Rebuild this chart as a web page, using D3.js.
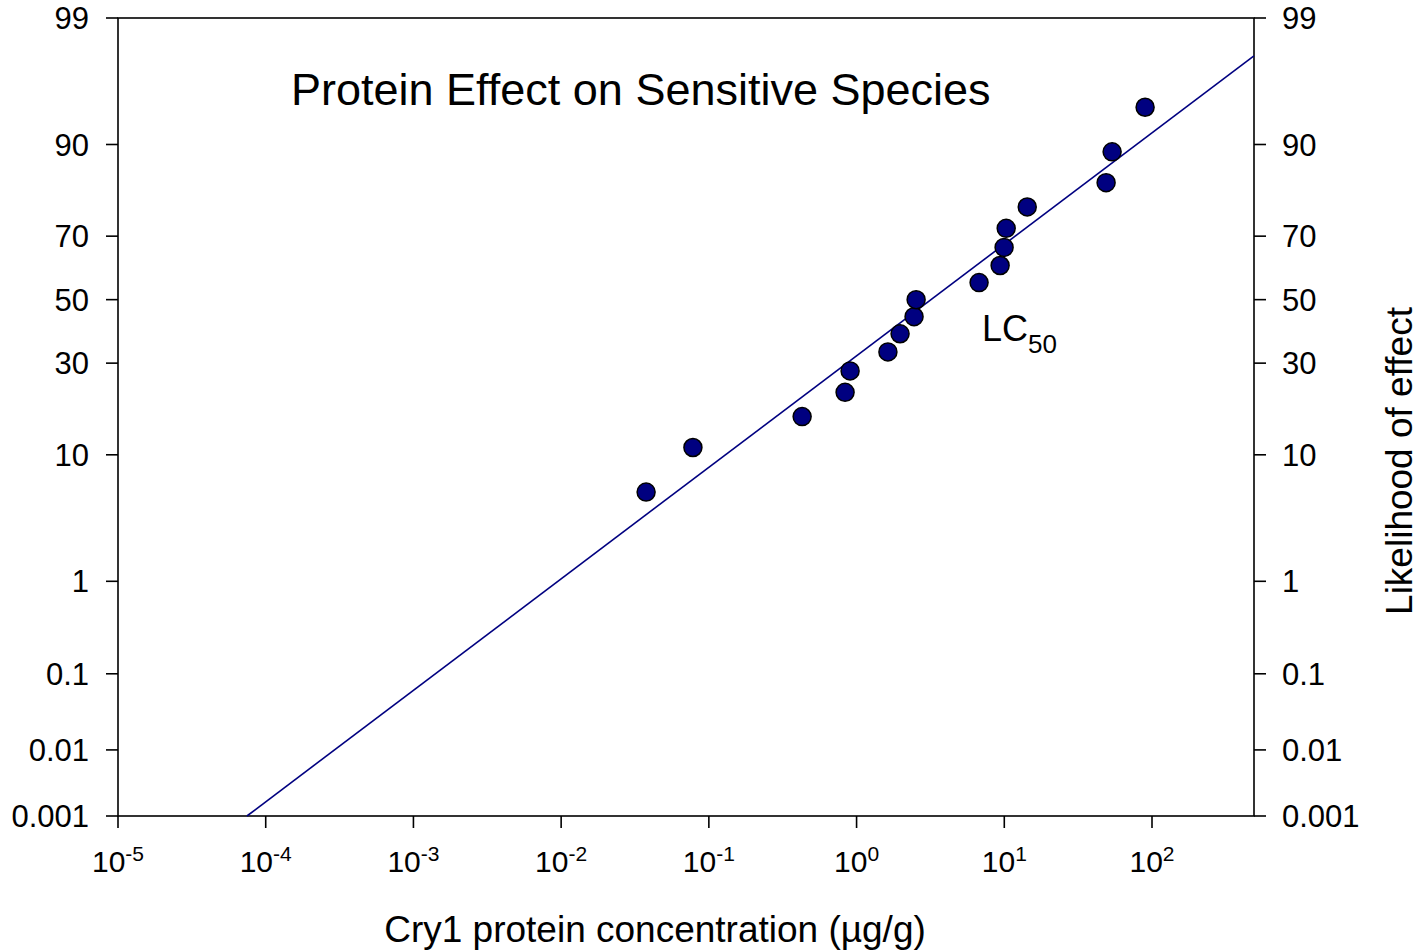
<!DOCTYPE html>
<meta charset="utf-8">
<title>Protein Effect on Sensitive Species</title>
<style>
body { margin: 0; background: #fff; }
text { font-family: "Liberation Sans", Arial, sans-serif; fill: #000; }
</style>
<svg width="1422" height="950"></svg>
<script src="https://d3js.org/d3.v7.min.js"></script>
<script>

// concentration (ug/g) and likelihood of effect (%)
var conc = [0.0376, 0.078, 0.428, 0.836, 0.904, 1.63, 1.97, 2.45, 2.53, 6.75, 9.37, 9.97, 10.3, 14.3, 48.9, 53.7, 89.8];
var likelihood = [5.6, 11.1, 16.7, 22.2, 27.8, 33.3, 38.9, 44.4, 50.0, 55.6, 61.1, 66.7, 72.2, 77.8, 83.3, 88.9, 94.4];

// fitted line end points
var fitConc = [7.46e-5, 490];
var fitLikelihood = [0.001, 97.8];

var yTicks = [0.001, 0.01, 0.1, 1, 10, 30, 50, 70, 90, 99];
var xTicks = [-5, -4, -3, -2, -1, 0, 1, 2];

// inverse normal cdf (Acklam)
function probit(p) {
  var a = [-3.969683028665376e+01, 2.209460984245205e+02, -2.759285104469687e+02, 1.383577518672690e+02, -3.066479806614716e+01, 2.506628277459239e+00],
      b = [-5.447609879822406e+01, 1.615858368580409e+02, -1.556989798598866e+02, 6.680131188771972e+01, -1.328068155288572e+01],
      c = [-7.784894002430293e-03, -3.223964580411365e-01, -2.400758277161838e+00, -2.549732539343734e+00, 4.374664141464968e+00, 2.938163982698783e+00],
      d = [7.784695709041462e-03, 3.224671290700398e-01, 2.445134137142996e+00, 3.754408661907416e+00];
  var q, r, pl = 0.02425;
  if (p < pl) {
    q = Math.sqrt(-2 * Math.log(p));
    return (((((c[0]*q+c[1])*q+c[2])*q+c[3])*q+c[4])*q+c[5]) / ((((d[0]*q+d[1])*q+d[2])*q+d[3])*q+1);
  } else if (p <= 1 - pl) {
    q = p - 0.5; r = q * q;
    return (((((a[0]*r+a[1])*r+a[2])*r+a[3])*r+a[4])*r+a[5])*q / (((((b[0]*r+b[1])*r+b[2])*r+b[3])*r+b[4])*r+1);
  } else {
    q = Math.sqrt(-2 * Math.log(1 - p));
    return -(((((c[0]*q+c[1])*q+c[2])*q+c[3])*q+c[4])*q+c[5]) / ((((d[0]*q+d[1])*q+d[2])*q+d[3])*q+1);
  }
}

var svg = d3.select("svg"),
    margin = {top: 18, right: 168, bottom: 134, left: 118},
    width = +svg.attr("width") - margin.left - margin.right,
    height = +svg.attr("height") - margin.top - margin.bottom;

var g = svg.append("g").attr("transform", "translate(" + margin.left + "," + margin.top + ")");

var x = d3.scaleLog()
    .domain([1e-5, Math.pow(10, 2.6905)])
    .range([0, width]);

var z = d3.scaleLinear()
    .domain([probit(0.00001), probit(0.99)])
    .range([height, 0]);

function y(pct) { return z(probit(pct / 100)); }

// frame
g.append("rect")
    .attr("width", width).attr("height", height)
    .attr("fill", "none").attr("stroke", "#000").attr("stroke-width", 1.6);

// y ticks left and right
yTicks.forEach(function(t) {
  var yy = y(t);
  g.append("line").attr("x1", -12).attr("x2", 0).attr("y1", yy).attr("y2", yy)
      .attr("stroke", "#000").attr("stroke-width", 1.6);
  g.append("line").attr("x1", width).attr("x2", width + 12).attr("y1", yy).attr("y2", yy)
      .attr("stroke", "#000").attr("stroke-width", 1.6);
  g.append("text").attr("x", -29).attr("y", yy).attr("dy", "0.36em")
      .attr("text-anchor", "end").style("font-size", "31px").text(t);
  g.append("text").attr("x", width + 28).attr("y", yy).attr("dy", "0.36em")
      .attr("text-anchor", "start").style("font-size", "31px").text(t);
});

// x ticks
xTicks.forEach(function(e) {
  var xx = x(Math.pow(10, e));
  g.append("line").attr("x1", xx).attr("x2", xx).attr("y1", height).attr("y2", height + 12)
      .attr("stroke", "#000").attr("stroke-width", 1.6);
  var t = g.append("text").attr("x", xx).attr("y", height + 56)
      .attr("text-anchor", "middle").style("font-size", "30px");
  t.append("tspan").text("10");
  t.append("tspan").attr("dy", -11).style("font-size", "21px").text(e);
});

// fit line
var pts = fitConc.map(function(c, i) { return [c, fitLikelihood[i]]; });
g.append("path")
    .attr("d", d3.line().x(function(d) { return x(d[0]); }).y(function(d) { return y(d[1]); })(pts))
    .attr("fill", "none").attr("stroke", "#000080").attr("stroke-width", 1.6);

// points
g.selectAll("circle")
  .data(conc.map(function(c, i) { return [c, likelihood[i]]; }))
  .enter().append("circle")
    .attr("cx", function(d) { return x(d[0]); })
    .attr("cy", function(d) { return y(d[1]); })
    .attr("r", 9)
    .attr("fill", "#000080")
    .attr("stroke", "#000").attr("stroke-width", 1.5);

// title
g.append("text").attr("x", 173).attr("y", 87)
    .style("font-size", "45px").text("Protein Effect on Sensitive Species");

// LC50 label
var lc = g.append("text").attr("x", 864).attr("y", 323).style("font-size", "36px");
lc.append("tspan").text("LC");
lc.append("tspan").attr("dy", 12).style("font-size", "26px").text("50");

// axis titles
svg.append("text").attr("x", 655).attr("y", 942)
    .attr("text-anchor", "middle").style("font-size", "37px")
    .text("Cry1 protein concentration (\u00b5g/g)");

svg.append("text")
    .attr("transform", "translate(1412," + 461 + ") rotate(-90)")
    .attr("text-anchor", "middle").style("font-size", "37px")
    .text("Likelihood of effect");

</script>
